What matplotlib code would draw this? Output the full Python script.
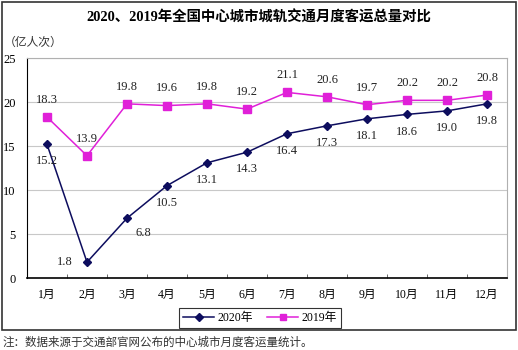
import matplotlib.pyplot as plt
from matplotlib.patches import Rectangle

plt.rcParams['font.family'] = ['Liberation Serif', 'Noto Sans CJK SC']

months = ['1月', '2月', '3月', '4月', '5月', '6月', '7月', '8月', '9月', '10月', '11月', '12月']
vals_2020 = [15.2, 1.8, 6.8, 10.5, 13.1, 14.3, 16.4, 17.3, 18.1, 18.6, 19.0, 19.8]
vals_2019 = [18.3, 13.9, 19.8, 19.6, 19.8, 19.2, 21.1, 20.6, 19.7, 20.2, 20.2, 20.8]

c2020 = '#0d0d5e'
c2019 = '#e020d8'

fig = plt.figure(figsize=(5.18, 3.5), dpi=100)
ax = fig.add_axes([0.0521, 0.2057, 0.9267, 0.6283])

x = list(range(len(months)))
ax.plot(x, vals_2020, color=c2020, lw=1.1, marker='D', ms=4.5, label='2020年', zorder=3)
ax.plot(x, vals_2019, color=c2019, lw=1.1, marker='s', ms=6, label='2019年', zorder=3)

# labels: 2019 above, 2020 below
for i, v in enumerate(vals_2019):
    ax.annotate(f'{v:.1f}', (i, v), xytext=(0, 8), textcoords='offset points',
                ha='center', va='bottom', fontsize=9, color='#222222')
for i, v in enumerate(vals_2020):
    if i == 1:
        off, ha, va = (-10, 0), 'right', 'center'
    elif i == 2:
        off, ha, va = (6, -6), 'left', 'top'
    else:
        off, ha, va = (0, -8), 'center', 'top'
    ax.annotate(f'{v:.1f}', (i, v), xytext=off, textcoords='offset points',
                ha=ha, va=va, fontsize=9, color='#222222')

ax.set_xlim(-0.5, 11.5)
ax.set_ylim(0, 25)
ax.set_yticks([0, 5, 10, 15, 20, 25])
ax.set_xticks(x)
ax.set_xticklabels(months, fontsize=8.5)
ax.set_xticks([i + 0.5 for i in range(11)], minor=True)
ax.tick_params(axis='x', which='major', length=0, pad=8)
ax.tick_params(axis='x', which='minor', length=3, direction='in', color='#555555')
ax.tick_params(axis='y', length=0, labelsize=9, pad=8)
ax.grid(axis='y', color='#c8c8c8', lw=0.8)
ax.set_axisbelow(True)

ax.spines['left'].set_color('black')
ax.spines['bottom'].set_color('black')
ax.spines['bottom'].set_linewidth(1.2)
ax.spines['top'].set_color('#b0b0b0')
ax.spines['right'].set_color('#b0b0b0')

fig.text(0.5, 0.951, '2020、2019年全国中心城市城轨交通月度客运总量对比',
         ha='center', va='center', fontsize=10.4, fontweight='bold')
fig.text(0.008, 0.877, '（亿人次）', ha='left', va='center', fontsize=8.5, color='#333333')

leg = fig.legend(loc='center', bbox_to_anchor=(0.502, 0.091), ncol=2, fontsize=8.5,
                 frameon=True, fancybox=False, edgecolor='black', handlelength=2.6,
                 columnspacing=1.2, borderpad=0.35, handletextpad=0.3)
leg.get_frame().set_linewidth(0.8)
for h in leg.legend_handles:
    h.set_markersize(4.5)

# outer frame
fig.patches.append(Rectangle((0.004, 0.057), 0.992, 0.937, transform=fig.transFigure,
                             fill=False, edgecolor='#333333', lw=1.2))

fig.text(0.004, 0.02, '注：数据来源于交通部官网公布的中心城市月度客运量统计。',
         ha='left', va='center', fontsize=8.3, color='#333333')

fig.savefig('out.png', dpi=100)
